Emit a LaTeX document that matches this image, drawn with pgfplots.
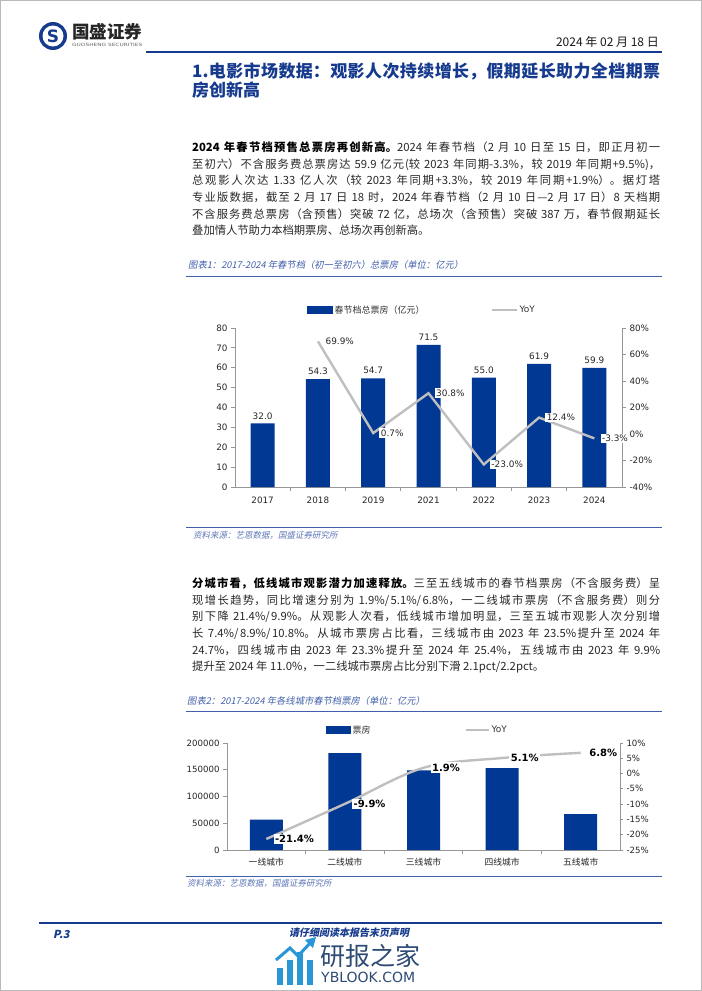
\documentclass[border=0pt]{standalone}
\usepackage{fontspec}
\usepackage{pgfplots}
\pgfplotsset{compat=1.18}
\setmainfont{Noto Sans CJK SC}
\newfontfamily\dv{DejaVu Sans}
\newfontfamily\cjkit[FakeSlant=0.2]{Noto Sans CJK SC}
\XeTeXlinebreaklocale "zh"
\XeTeXlinebreakskip=0pt plus 1pt minus 0.2pt
\newcommand\fs[1]{\fontsize{#1}{#1}\selectfont}
\definecolor{barblue}{RGB}{0,56,148}
\definecolor{hblue}{RGB}{22,58,142}
\definecolor{tblue}{RGB}{65,95,170}
\definecolor{lgray}{RGB}{191,191,191}
\definecolor{axgray}{RGB}{150,150,150}
\definecolor{txt}{RGB}{40,40,40}
\definecolor{wmblue}{RGB}{45,75,115}
\definecolor{wmlight}{RGB}{40,150,215}
\newcommand\jl[1]{\parbox[b]{468bp}{\parfillskip=0pt\relax\noindent\color{txt}\fs{11.3bp}#1}}
\newcommand\lastl[1]{\parbox[b]{468bp}{\noindent\color{txt}\fs{11.3bp}#1}}
\begin{document}
\begin{tikzpicture}
\useasboundingbox (0bp,0bp) rectangle (702bp,-991bp);
\fill[white] (0bp,0bp) rectangle (702bp,-991bp);
\begin{scope}[x=1bp,y=-1bp]
\draw[gray!55, line width=1bp] (0.5,0.5) rectangle (701.5,990.5);
% logo
\fill[hblue] (53,36) circle (14);
\fill[white] (53,36) circle (10.5);
\node[hblue,font=\dv\bfseries\fs{17bp}] at (53,36) {S};
\node[anchor=west,inner sep=0,text=black!85,font=\bfseries\fs{17.5bp}] at (72,32) {国盛证券};
\node[anchor=west,inner sep=0,text=black!60] at (72,45) {\resizebox{70bp}{3.2bp}{\dv GUOSHENG SECURITIES}};
\node[anchor=east,inner sep=0,font=\fs{12bp},text=black!90] at (659,42) {2024 年 02 月 18 日};
\draw[hblue, line width=1.5bp] (146,52) -- (662,52);
% heading
\node[anchor=base west,inner sep=0] at (192,77.5) {\parbox[b]{468bp}{\parfillskip=0pt\relax\noindent\color{hblue}\bfseries\fs{17bp}1.电影市场数据：观影人次持续增长，假期延长助力全档期票}};
\node[anchor=base west,inner sep=0,text=hblue,font=\bfseries\fs{17bp}] at (192,96.5) {房创新高};
% paragraph 1
\node[anchor=base west,inner sep=0] at (192,151.4) {\jl{\textbf{\color{black}2024 年春节档预售总票房再创新高。}2024 年春节档（2 月 10 日至 15 日，即正月初一}};
\node[anchor=base west,inner sep=0] at (192,168.0) {\jl{至初六）不含服务费总票房达 59.9 亿元(较 2023 年同期-3.3\%，较 2019 年同期+9.5\%)，}};
\node[anchor=base west,inner sep=0] at (192,184.6) {\jl{总观影人次达 1.33 亿人次（较 2023 年同期+3.3\%，较 2019 年同期+1.9\%）。据灯塔}};
\node[anchor=base west,inner sep=0] at (192,201.4) {\jl{专业版数据，截至 2 月 17 日 18 时，2024 年春节档（2 月 10 日—2 月 17 日）8 天档期}};
\node[anchor=base west,inner sep=0] at (192,218.0) {\jl{不含服务费总票房（含预售）突破 72 亿，总场次（含预售）突破 387 万，春节假期延长}};
\node[anchor=base west,inner sep=0] at (192,234.6) {\lastl{叠加情人节助力本档期票房、总场次再创新高。}};
% chart 1 title
\node[anchor=west,inner sep=0,font=\cjkit\fs{9.3bp},text=tblue] at (188,265) {图表1：2017-2024 年春节档（初一至初六）总票房（单位：亿元）};
\draw[tblue, line width=1bp] (186,276) -- (662,276);
\draw[tblue, line width=1bp] (186,527) -- (662,527);
\node[anchor=west,inner sep=0,font=\cjkit\fs{8.5bp},text=tblue!85] at (193,535) {资料来源：艺恩数据，国盛证券研究所};
% paragraph 2
\node[anchor=base west,inner sep=0] at (192,587.4) {\jl{\textbf{\color{black}分城市看，低线城市观影潜力加速释放。}三至五线城市的春节档票房（不含服务费）呈}};
\node[anchor=base west,inner sep=0] at (192,604.2) {\jl{现增长趋势，同比增速分别为 1.9\%/5.1\%/6.8\%，一二线城市票房（不含服务费）则分}};
\node[anchor=base west,inner sep=0] at (192,620.8) {\jl{别下降 21.4\%/9.9\%。从观影人次看，低线城市增加明显，三至五城市观影人次分别增}};
\node[anchor=base west,inner sep=0] at (192,637.4) {\jl{长 7.4\%/8.9\%/10.8\%。从城市票房占比看，三线城市由 2023 年 23.5\%提升至 2024 年}};
\node[anchor=base west,inner sep=0] at (192,654.0) {\jl{24.7\%，四线城市由 2023 年 23.3\%提升至 2024 年 25.4\%，五线城市由 2023 年 9.9\%}};
\node[anchor=base west,inner sep=0] at (192,670.6) {\lastl{提升至 2024 年 11.0\%，一二线城市票房占比分别下滑 2.1pct/2.2pct。}};
% chart 2 title
\node[anchor=west,inner sep=0,font=\cjkit\fs{9.3bp},text=tblue] at (187,700.7) {图表2：2017-2024 年各线城市春节档票房（单位：亿元）};
\draw[tblue, line width=1bp] (186,711) -- (662,711);
\draw[tblue, line width=1bp] (186,876) -- (662,876);
\node[anchor=west,inner sep=0,font=\cjkit\fs{8.5bp},text=tblue!85] at (187,883.5) {资料来源：艺恩数据，国盛证券研究所};
% footer
\draw[hblue, line width=2bp] (39,923) -- (662,923);
\node[anchor=west,inner sep=0,font=\cjkit\bfseries\fs{11bp},text=hblue] at (53,934) {P.3};
\node[inner sep=0,font=\cjkit\bfseries\fs{10bp},text=hblue] at (349,933) {请仔细阅读本报告末页声明};
% watermark
\fill[wmlight] (277,985) rectangle (283,968);
\fill[wmlight] (287,985) rectangle (293,960);
\fill[wmlight] (297,985) rectangle (303,952);
\fill[wmlight] (307,985) rectangle (313,960);
\draw[wmlight, line width=3bp] (276,960) -- (290,948) -- (298,956) -- (312,941);
\fill[wmlight] (316,937) -- (305,940) -- (313,948) -- cycle;
\node[anchor=west,inner sep=0,font=\fs{25bp},text=wmblue] at (320,956) {研报之家};
\node[anchor=west,inner sep=0,font=\dv\fs{14bp},text=wmblue] at (321,977) {YBLOOK.COM};
\end{scope}
% ================= chart 1 =================
\begin{axis}[
  at={(235bp,-487bp)}, anchor=south west, scale only axis,
  width=387bp, height=159bp,
  xmin=-0.5, xmax=6.5, ymin=0, ymax=80,
  axis y line*=left, axis x line*=bottom,
  axis line style={draw=axgray, line width=0.8bp, -},
  xtick={0,...,6}, xticklabels={2017,2018,2019,2021,2022,2023,2024},
  major x tick style={draw=none},
  minor xtick={0.5,1.5,...,5.5},
  ytick={0,10,...,80},
  tick align=outside, major tick length=4bp, minor tick length=4bp,
  tick style={draw=axgray, line width=0.8bp},
  tick label style={font=\dv\fs{8.8bp}, text=black!85},
  xticklabel style={yshift=-2bp},
  /pgf/number format/assume math mode=true,
  clip=false,
]
\addplot[ybar, bar width=24bp, fill=barblue, draw=none,
  nodes near coords={\pgfmathprintnumber[fixed,fixed zerofill,precision=1]{\pgfplotspointmeta}},
  nodes near coords style={font=\dv\fs{8.9bp}, text=black!85, inner sep=2bp, yshift=2bp}]
  coordinates {(0,32.0) (1,54.3) (2,54.7) (3,71.5) (4,55.0) (5,61.9) (6,59.9)};
\end{axis}
\begin{axis}[
  at={(235bp,-487bp)}, anchor=south west, scale only axis,
  width=387bp, height=159bp,
  xmin=-0.5, xmax=6.5, ymin=-40, ymax=80,
  axis y line*=right, axis x line=none,
  axis line style={draw=axgray, line width=0.8bp, -},
  ytick={-40,-20,...,80},
  yticklabel={\pgfmathprintnumber{\tick}\%},
  tick align=outside, major tick length=4bp,
  tick style={draw=axgray, line width=0.8bp},
  tick label style={font=\dv\fs{8.8bp}, text=black!85},
  /pgf/number format/assume math mode=true,
  clip=false,
  legend columns=2,
  legend style={at={(0.186,1.113)}, anchor=west, draw=none, fill=none, inner sep=0pt,
    font=\fs{9bp}, text=black!80,
    /tikz/every even column/.append style={column sep=64bp}},
  legend cell align=left,
]
\addlegendimage{legend image code/.code={\fill[barblue] (0bp,-3.5bp) rectangle (25bp,3.5bp);}}
\addlegendentry{春节档总票房（亿元）}
\addplot[lgray, line width=2.4bp, mark=none,
  legend image code/.code={\draw[lgray,line width=2bp] (0bp,0bp) -- (25bp,0bp);},
  nodes near coords={\pgfmathprintnumber[fixed,fixed zerofill,precision=1]{\pgfplotspointmeta}\%},
  nodes near coords style={anchor=west, fill=white, inner sep=1.5bp, xshift=5bp, font=\dv\fs{8.9bp}, text=black!85}]
  coordinates {(1,69.9) (2,0.7) (3,30.8) (4,-23.0) (5,12.4) (6,-3.3)};
\addlegendentry{\dv YoY}
\end{axis}
% ================= chart 2 =================
\begin{axis}[
  at={(227bp,-850bp)}, anchor=south west, scale only axis,
  width=393bp, height=107bp,
  xmin=-0.5, xmax=4.5, ymin=0, ymax=200000,
  axis y line*=left, axis x line*=bottom,
  axis line style={draw=axgray, line width=0.8bp, -},
  xtick={0,...,4}, xticklabels={一线城市,二线城市,三线城市,四线城市,五线城市},
  major x tick style={draw=none},
  minor xtick={0.5,1.5,...,3.5},
  ytick={0,50000,...,200000},
  scaled y ticks=false,
  /pgf/number format/fixed, /pgf/number format/1000 sep={},
  tick align=outside, major tick length=4bp, minor tick length=4bp,
  tick style={draw=axgray, line width=0.8bp},
  tick label style={font=\dv\fs{8.6bp}, text=black!85},
  xticklabel style={font=\fs{8.8bp}, yshift=-1bp},
  /pgf/number format/assume math mode=true,
  clip=false,
]
\addplot[ybar, bar width=33bp, fill=barblue, draw=none]
  coordinates {(0,57000) (1,181000) (2,149000) (3,153000) (4,67000)};
\end{axis}
\begin{axis}[
  at={(227bp,-850bp)}, anchor=south west, scale only axis,
  width=393bp, height=107bp,
  xmin=-0.5, xmax=4.5, ymin=-25, ymax=10,
  axis y line*=right, axis x line=none,
  axis line style={draw=axgray, line width=0.8bp, -},
  ytick={-25,-20,...,10},
  yticklabel={\pgfmathprintnumber{\tick}\%},
  tick align=outside, major tick length=3bp,
  tick style={draw=axgray, line width=0.8bp},
  tick label style={font=\dv\fs{8.6bp}, text=black!85},
  /pgf/number format/assume math mode=true,
  clip=false,
  legend columns=2,
  legend style={at={(0.252,1.121)}, anchor=west, draw=none, fill=none, inner sep=0pt,
    font=\fs{9bp}, text=black!80,
    /tikz/every even column/.append style={column sep=92bp}},
  legend cell align=left,
]
\addlegendimage{legend image code/.code={\fill[barblue] (0bp,-3.5bp) rectangle (24bp,3.5bp);}}
\addlegendentry{票房}
\addplot[lgray, line width=2.4bp, mark=none, smooth, tension=0.55,
  legend image code/.code={\draw[lgray,line width=2bp] (0bp,0bp) -- (23bp,0bp);},
  nodes near coords={\pgfmathprintnumber[fixed,fixed zerofill,precision=1]{\pgfplotspointmeta}\%},
  nodes near coords style={anchor=west, fill=white, inner sep=1.5bp, xshift=6bp, font=\dv\bfseries\fs{10bp}, text=black}]
  coordinates {(0,-21.4) (1,-9.9) (2,1.9) (3,5.1) (4,6.8)};
\addlegendentry{\dv YoY}
\end{axis}
\end{tikzpicture}
\end{document}
